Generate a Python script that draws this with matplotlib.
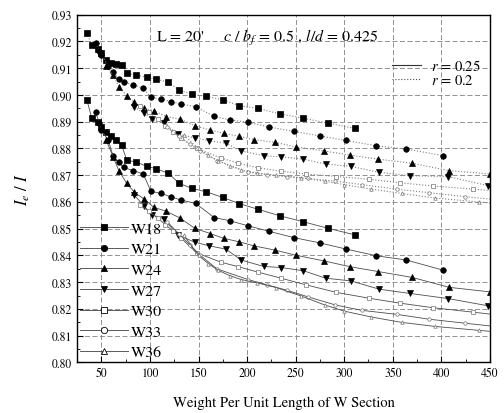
import matplotlib
matplotlib.use('Agg')
import matplotlib.pyplot as plt
from matplotlib.lines import Line2D
from matplotlib.ticker import MultipleLocator, FormatStrFormatter

plt.rcParams['font.family'] = ['STIXGeneral', 'DejaVu Serif']
plt.rcParams['mathtext.fontset'] = 'stix'

# W-section weights (lb/ft)
w18_x = [35, 40, 46, 50, 55, 60, 65, 71, 76, 86, 97, 106, 119, 130, 143, 158, 175, 192, 211, 234, 258, 283, 311]
w21_x = [44, 48, 50, 57, 62, 68, 73, 83, 93, 101, 111, 122, 132, 147, 166, 182, 201, 223, 248, 275, 302, 333, 364, 402]
w24_x = [55, 62, 68, 76, 84, 94, 104, 117, 131, 146, 162, 176, 192, 207, 229, 250, 279, 306, 335, 370, 408, 450]
w27_x = [84, 94, 102, 114, 129, 146, 161, 178, 194, 217, 235, 258, 281, 307, 336, 368, 407, 448]
w30_x = [90, 99, 108, 116, 124, 132, 148, 173, 191, 211, 235, 261, 292, 326, 357, 391, 433, 477]
w33_x = [118, 130, 141, 152, 169, 201, 221, 241, 263, 291, 318, 354, 387, 424, 467]
w36_x = [135, 150, 160, 170, 182, 194, 210, 230, 256, 280, 300, 328, 359, 393, 439, 487]

# Ie/I for r = 0.25 (solid)
w18_r25 = [0.8982, 0.8915, 0.8898, 0.8882, 0.8860, 0.8848, 0.8830, 0.8812, 0.8757, 0.8749, 0.8733, 0.8725,
           0.8707, 0.8670, 0.8651, 0.8638, 0.8617, 0.8594, 0.8573, 0.8548, 0.8526, 0.8502, 0.8477]
w21_r25 = [0.8935, 0.8895, 0.8870, 0.8830, 0.8773, 0.8748, 0.8729, 0.8717, 0.8705, 0.8640, 0.8632, 0.8619,
           0.8607, 0.8595, 0.8542, 0.8530, 0.8511, 0.8490, 0.8467, 0.8447, 0.8424, 0.8399, 0.8383, 0.8345]
w24_r25 = [0.8830, 0.8770, 0.8717, 0.8670, 0.8636, 0.8611, 0.8580, 0.8565, 0.8540, 0.8502, 0.8482, 0.8464,
           0.8451, 0.8436, 0.8420, 0.8401, 0.8380, 0.8358, 0.8340, 0.8318, 0.8281, 0.8264]
w27_r25 = [0.8625, 0.8585, 0.8552, 0.8537, 0.8476, 0.8450, 0.8436, 0.8424, 0.8383, 0.8359, 0.8355, 0.8343,
           0.8315, 0.8305, 0.8274, 0.8258, 0.8239, 0.8212]
w30_r25 = [0.8590, 0.8565, 0.8540, 0.8515, 0.8490, 0.8465, 0.8410, 0.8375, 0.8358, 0.8338, 0.8315, 0.8290,
           0.8262, 0.8240, 0.8222, 0.8205, 0.8188, 0.8170]
w33_r25 = [0.8525, 0.8480, 0.8440, 0.8400, 0.8350, 0.8310, 0.8290, 0.8270, 0.8245, 0.8215, 0.8195, 0.8180,
           0.8162, 0.8147, 0.8130]
w36_r25 = [0.8475, 0.8400, 0.8370, 0.8345, 0.8325, 0.8310, 0.8298, 0.8280, 0.8248, 0.8215, 0.8192, 0.8170,
           0.8150, 0.8135, 0.8120, 0.8105]

# Ie/I for r = 0.2 (dotted)
w18_r20 = [0.9232, 0.9187, 0.9172, 0.9156, 0.9131, 0.9120, 0.9116, 0.9112, 0.9082, 0.9074, 0.9066, 0.9060,
           0.9047, 0.9018, 0.9003, 0.8995, 0.8982, 0.8960, 0.8950, 0.8929, 0.8913, 0.8895, 0.8875]
w21_r20 = [0.9193, 0.9165, 0.9150, 0.9110, 0.9087, 0.9060, 0.9049, 0.9037, 0.9026, 0.8991, 0.8985, 0.8975,
           0.8966, 0.8956, 0.8920, 0.8907, 0.8898, 0.8880, 0.8864, 0.8847, 0.8830, 0.8810, 0.8798, 0.8773]
w24_r20 = [0.9110, 0.9075, 0.9031, 0.8997, 0.8972, 0.8950, 0.8941, 0.8919, 0.8910, 0.8885, 0.8869, 0.8857,
           0.8845, 0.8833, 0.8823, 0.8806, 0.8791, 0.8775, 0.8760, 0.8745, 0.8717, 0.8705]
w27_r20 = [0.8955, 0.8931, 0.8910, 0.8894, 0.8854, 0.8840, 0.8829, 0.8820, 0.8791, 0.8773, 0.8769, 0.8760,
           0.8742, 0.8733, 0.8711, 0.8698, 0.8695, 0.8661]
w30_r20 = [0.8960, 0.8935, 0.8910, 0.8885, 0.8860, 0.8840, 0.8800, 0.8765, 0.8745, 0.8728, 0.8715, 0.8705,
           0.8695, 0.8685, 0.8672, 0.8660, 0.8648, 0.8635]
w33_r20 = [0.8880, 0.8845, 0.8815, 0.8790, 0.8755, 0.8712, 0.8702, 0.8695, 0.8688, 0.8678, 0.8665, 0.8648,
           0.8635, 0.8620, 0.8605]
w36_r20 = [0.8850, 0.8800, 0.8775, 0.8755, 0.8735, 0.8720, 0.8708, 0.8700, 0.8690, 0.8678, 0.8665, 0.8648,
           0.8632, 0.8615, 0.8600, 0.8585]

labels = ['W18', 'W21', 'W24', 'W27', 'W30', 'W33', 'W36']
markers = ['s', 'o', '^', 'v', 's', 'o', '^']
filled = [True, True, True, True, False, False, False]
xs = [w18_x, w21_x, w24_x, w27_x, w30_x, w33_x, w36_x]
r25 = [w18_r25, w21_r25, w24_r25, w27_r25, w30_r25, w33_r25, w36_r25]
r20 = [w18_r20, w21_r20, w24_r20, w27_r20, w30_r20, w33_r20, w36_r20]

fig = plt.figure(figsize=(5.04, 4.14), dpi=100)
ax = fig.add_axes([0.153, 0.122, 0.819, 0.840])

handles = []
for i in range(len(labels)):
    fc = 'black' if filled[i] else 'white'
    ms = 4 if filled[i] else 2.5
    ec = 'black' if filled[i] else '0.45'
    ax.plot(xs[i], r20[i], linestyle=':', color='0.5', linewidth=0.8,
            marker=markers[i], markersize=ms, markerfacecolor=fc, markeredgecolor=ec,
            markeredgewidth=0.5)
    ax.plot(xs[i], r25[i], linestyle='-', color='0.3', linewidth=0.6,
            marker=markers[i], markersize=ms, markerfacecolor=fc, markeredgecolor=ec,
            markeredgewidth=0.5)
    handles.append(Line2D([], [], linestyle='-', color='0.35', linewidth=0.7,
                          marker=markers[i], markersize=4.5, markerfacecolor=fc,
                          markeredgecolor='black', markeredgewidth=0.6, label=labels[i]))

ax.set_xlim(25, 450)
ax.set_ylim(0.80, 0.93)
ax.xaxis.set_major_locator(MultipleLocator(50))
ax.xaxis.set_minor_locator(MultipleLocator(25))
ax.yaxis.set_major_locator(MultipleLocator(0.01))
ax.yaxis.set_minor_locator(MultipleLocator(0.005))
ax.yaxis.set_major_formatter(FormatStrFormatter('%.2f'))
ax.tick_params(which='both', direction='in', labelsize=8.5, top=False, right=False)
ax.tick_params(which='major', length=4)
ax.tick_params(which='minor', length=2)
ax.grid(True, which='major', color='0.5', linestyle=(0, (6, 3)), linewidth=0.6)
for s in ax.spines.values():
    s.set_linewidth(1.0)

ax.set_xlabel('Weight Per Unit Length of W Section', fontsize=10.5, labelpad=12)
ax.set_ylabel(r'$I_e\ /\ I$', fontsize=12, labelpad=14)

ax.text(0.19, 0.965, r"L = 20'     $c\ /\ b_f$ = 0.5 , $l/d$ = 0.425", transform=ax.transAxes,
        fontsize=11.5, va='top', ha='left')

leg1 = ax.legend(handles=handles, loc='lower left', bbox_to_anchor=(0.0, 0.0), frameon=False,
                 fontsize=11.5, handlelength=3.0, handletextpad=0.2, labelspacing=0.4,
                 borderaxespad=0.05, borderpad=0.15)
ax.add_artist(leg1)

r_handles = [Line2D([], [], linestyle='-', color='0.2', linewidth=0.8, label='$r$ = 0.25'),
             Line2D([], [], linestyle=':', color='0.3', linewidth=0.8, label='$r$ = 0.2')]
ax.legend(handles=r_handles, loc='upper right', bbox_to_anchor=(1.0, 0.9), frameon=False,
          fontsize=10.5, handlelength=2.0, handletextpad=0.7, labelspacing=0.0, borderaxespad=0.2)

fig.savefig('out.png', dpi=100)
